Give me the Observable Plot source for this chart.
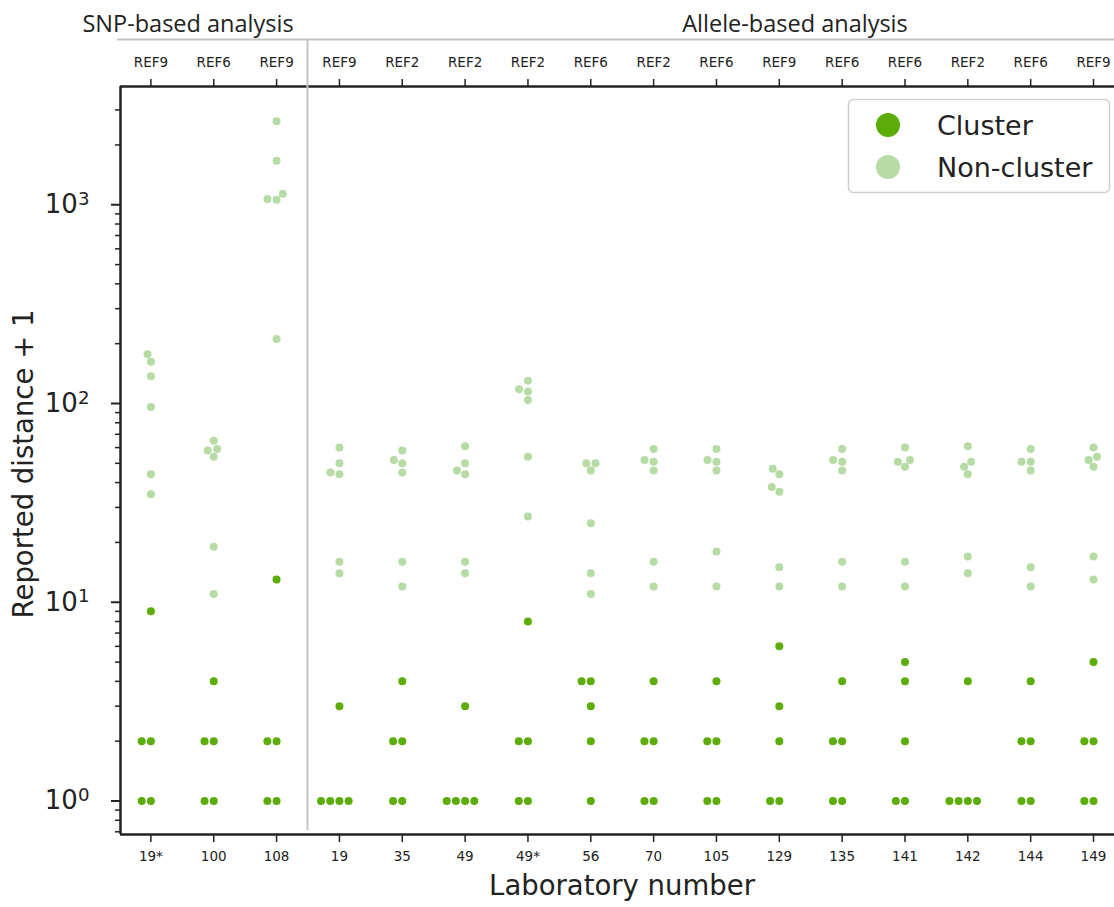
<!DOCTYPE html>
<html><head><meta charset="utf-8">
<script src="https://cdn.jsdelivr.net/npm/d3@7"></script>
<script src="https://cdn.jsdelivr.net/npm/@observablehq/plot@0.6"></script>
<style>body{margin:0;background:#fff} svg{display:block}</style>
</head><body><div id="chart"></div>
<script>
const labs = ["19*","100","108","19","35","49","49*","56","70","105","129","135","141","142","144","149"];
const refs = ["REF9","REF6","REF9","REF9","REF2","REF2","REF2","REF6","REF2","REF6","REF9","REF6","REF6","REF2","REF6","REF9"];
const groupNames = ["SNP-based analysis","Allele-based analysis"];
const groupSizes = [3, 13];
const seriesNames = ["Cluster","Non-cluster"];
const clusterValues = [
  [1,1,2,2,9],[1,1,2,2,4],[1,1,2,2,13],[1,1,1,1,3],[1,1,2,2,4],[1,1,1,1,3],[1,1,2,2,8],[1,2,3,4,4],
  [1,1,2,2,4],[1,1,2,2,4],[1,1,2,3,6],[1,1,2,2,4],[1,1,2,4,5],[1,1,1,1,4],[1,1,2,2,4],[1,1,2,2,5]
];
const nonClusterValues = [
  [35,44,96,137,162,177],[11,19,54,58,59,65],[211,1060,1068,1137,1663,2634],[14,16,44,45,50,60],
  [12,16,45,50,52,58],[14,16,44,46,50,61],[27,54,104,115,118,130],[11,14,25,46,50,50],
  [12,16,46,51,52,59],[12,18,46,51,52,59],[12,15,36,38,44,47],[12,16,46,51,52,59],
  [12,16,48,51,52,60],[14,17,44,48,51,61],[12,15,46,51,51,59],[13,17,48,52,54,60]
];
const majorTicks = [1,10,100,1000];
const minorTicks = [0.7,0.8,0.9,2,3,4,5,6,7,8,9,20,30,40,50,60,70,80,90,200,300,400,500,600,700,800,900,2000,3000];

const W = 1114, H = 907;
const X0 = -0.4838, X1 = 15.334;
const xRange = [120, W];
const yDomain = [Math.pow(10,-0.1685), Math.pow(10,3.595)];
const yRange = [834, 86];
const colors = ["#5cad0a", "#b6dba5"];

// beeswarm layout (like seaborn swarmplot)
const yPx = d3.scaleLog(yDomain, yRange);
const pxPerUnit = (xRange[1]-xRange[0])/(X1-X0);
const D = 9.2, K = 1.12;
const rows = [];
labs.forEach((lab, i) => {
  const pts = [
    ...clusterValues[i].map(v => ({v, type: seriesNames[0]})),
    ...nonClusterValues[i].map(v => ({v, type: seriesNames[1]}))
  ].sort((a,b) => a.v - b.v);
  const placed = [];
  for (const p of pts) {
    const py = yPx(p.v);
    const cands = [0];
    for (const q of placed) {
      const dy = (py - q.py)*K;
      if (Math.abs(dy) < D) { const dx = Math.sqrt(D*D - dy*dy); cands.push(q.off - dx, q.off + dx); }
    }
    cands.sort((a,b) => Math.abs(a) - Math.abs(b));
    let off = 0;
    for (const c of cands) {
      if (placed.every(q => { const dy = (py - q.py)*K; return (c-q.off)**2 + dy*dy >= D*D - 1e-6; })) { off = c; break; }
    }
    placed.push({py, off});
    rows.push({lab, idx: i, value: p.v, type: p.type, x: i + off/pxPerUnit});
  }
});

const idx = d3.range(labs.length);
const chart = Plot.plot({
  width: W, height: H,
  marginLeft: 120, marginRight: 0, marginTop: 86, marginBottom: H - 834,
  x: {domain: [X0, X1], range: xRange},
  y: {type: "log", domain: yDomain, range: yRange},
  color: {domain: seriesNames, range: colors},
  style: {fontFamily: "DejaVu Sans", color: "#222", background: "#fff"},
  marks: [
    Plot.dot(rows, {x: "x", y: "value", fill: "type", r: 4}),
    Plot.axisY(minorTicks, {tickSize: 5, text: null, label: null, strokeWidth: 1.5, stroke: "#222"}),
    Plot.axisY(majorTicks, {tickSize: 9, tickPadding: 22, fontSize: 26, tickFormat: d => "e" + String(Math.round(Math.log10(d))), label: null, strokeWidth: 2, stroke: "#222"}),
    Plot.axisX(idx, {anchor: "bottom", tickSize: 8, tickPadding: 9, fontSize: 13.5, tickFormat: i => labs[i], label: null, strokeWidth: 1.5, stroke: "#222"}),
    Plot.axisX(idx, {anchor: "top", tickSize: 8, tickPadding: 12, fontSize: 13.5, tickFormat: i => refs[i], label: null, strokeWidth: 1.5, stroke: "#222"}),
    Plot.ruleX([X0], {stroke: "#222", strokeWidth: 2.5}),
    Plot.ruleY([yDomain[0]], {stroke: "#222", strokeWidth: 2.5}),
    Plot.ruleY([yDomain[1]], {stroke: "#222", strokeWidth: 2.5})
  ]
});
document.getElementById("chart").appendChild(chart);

const svg = d3.select(chart);
const xs = chart.scale("x");
// superscript exponents on major y tick labels
svg.selectAll('g[aria-label="y-axis tick label"] text').each(function() {
  const s = this.textContent;
  const t = d3.select(this);
  if (!s.startsWith("e")) { if (s !== "" ) t.text(""); return; }
  t.text("10");
  t.append("tspan").attr("dy", "-0.45em").attr("font-size", "0.7em").text(s.slice(1));
});

const gray = "#c4c4c4";
// group separator & header line
const sepX = xs.apply(groupSizes[0] - 0.5);
svg.append("line").attr("x1", sepX).attr("x2", sepX).attr("y1", 39).attr("y2", 830).attr("stroke", gray).attr("stroke-width", 2);
svg.append("line").attr("x1", 117).attr("x2", W).attr("y1", 39.5).attr("y2", 39.5).attr("stroke", gray).attr("stroke-width", 2);
svg.append("text").attr("x", 188).attr("y", 32).attr("text-anchor", "middle").attr("font-family", "Open Sans").attr("font-size", 23.5).attr("fill", "#222").text(groupNames[0]);
svg.append("text").attr("x", 795).attr("y", 32).attr("text-anchor", "middle").attr("font-family", "Open Sans").attr("font-size", 23.5).attr("fill", "#222").text(groupNames[1]);

// axis titles
svg.append("text").attr("x", 622).attr("y", 895).attr("text-anchor", "middle").attr("font-size", 27.5).attr("fill", "#222").text("Laboratory number");
svg.append("text").attr("transform", "translate(33,464) rotate(-90)").attr("text-anchor", "middle").attr("font-size", 27.5).attr("fill", "#222").text("Reported distance + 1");

// legend
const lg = svg.append("g");
lg.append("rect").attr("x", 848.5).attr("y", 99.5).attr("width", 261).attr("height", 93).attr("rx", 5).attr("fill", "#fff").attr("fill-opacity", 0.8).attr("stroke", "#d0d0d0").attr("stroke-width", 1.5);
seriesNames.forEach((s, k) => {
  const cy = 125 + k*42;
  lg.append("circle").attr("cx", 888).attr("cy", cy).attr("r", 12).attr("fill", colors[k]);
  lg.append("text").attr("x", 937).attr("y", cy + 10).attr("text-anchor", "start").attr("font-size", 27).attr("fill", "#222").text(s);
});
</script>
</body></html>
